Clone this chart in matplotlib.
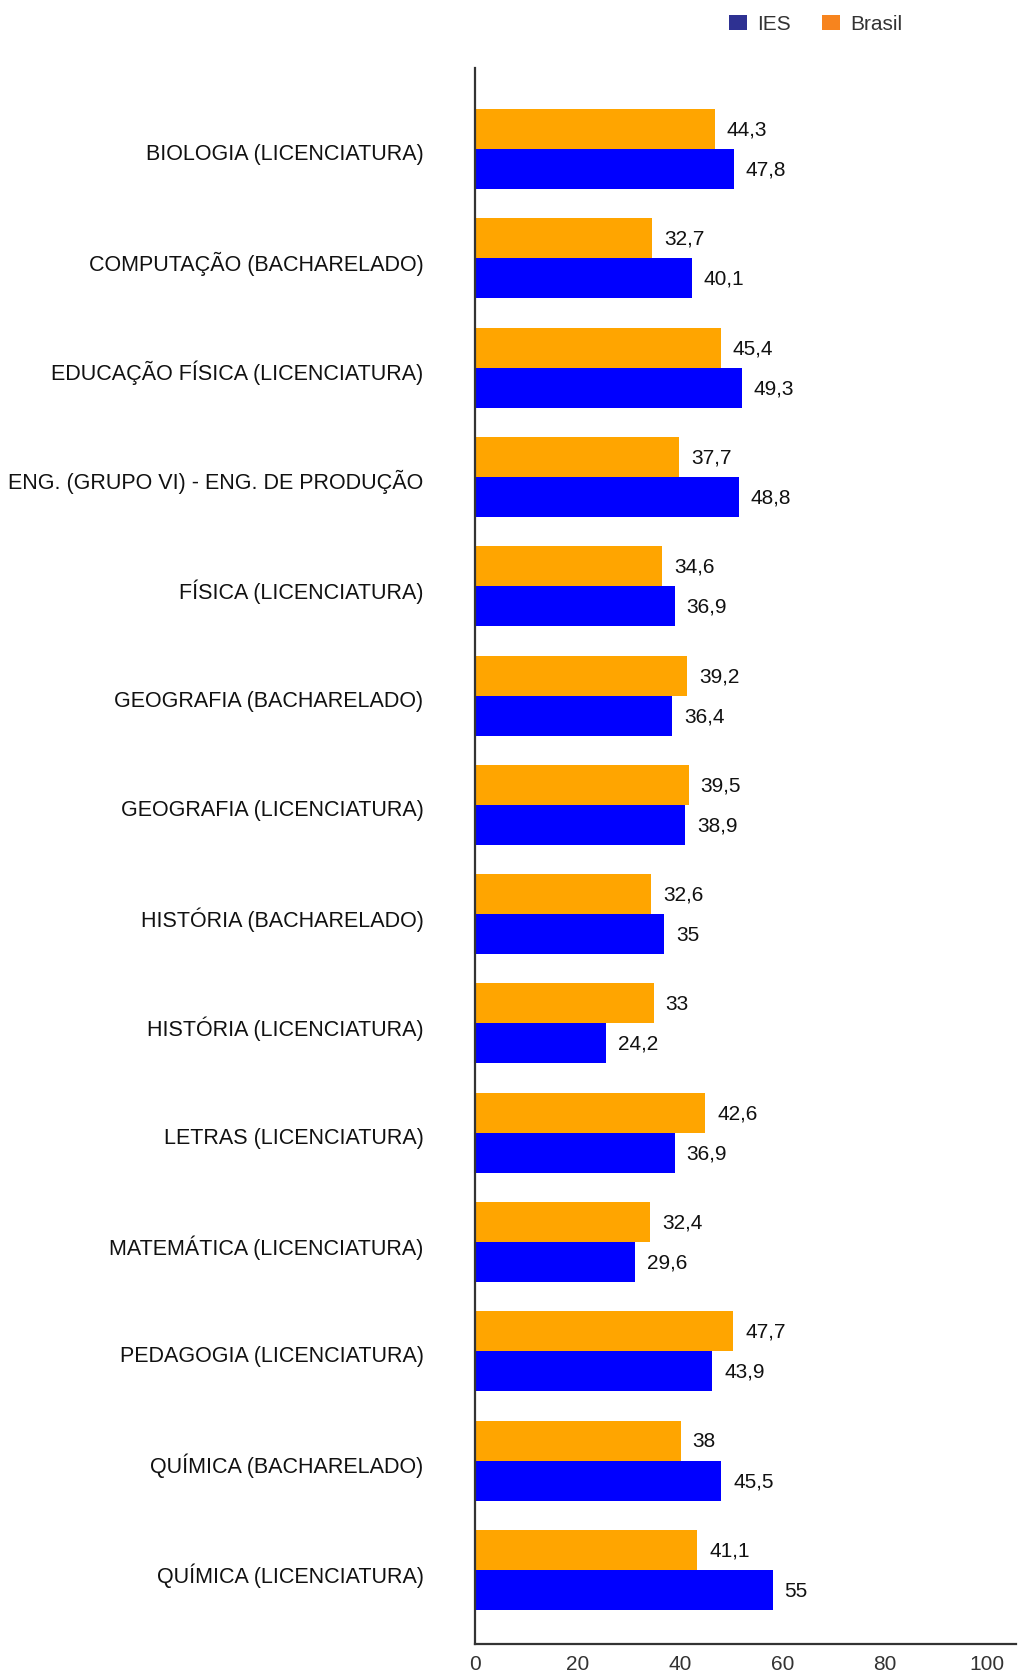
import matplotlib
matplotlib.use("Agg")
import matplotlib.pyplot as plt
import matplotlib.transforms as mtransforms
from matplotlib.patches import Patch
import numpy as np

plt.rcParams['font.family'] = ['Liberation Sans', 'DejaVu Sans']

categories = [
    "BIOLOGIA (LICENCIATURA)",
    "COMPUTAÇÃO (BACHARELADO)",
    "EDUCAÇÃO FÍSICA (LICENCIATURA)",
    "ENG. (GRUPO VI) - ENG. DE PRODUÇÃO",
    "FÍSICA (LICENCIATURA)",
    "GEOGRAFIA (BACHARELADO)",
    "GEOGRAFIA (LICENCIATURA)",
    "HISTÓRIA (BACHARELADO)",
    "HISTÓRIA (LICENCIATURA)",
    "LETRAS (LICENCIATURA)",
    "MATEMÁTICA (LICENCIATURA)",
    "PEDAGOGIA (LICENCIATURA)",
    "QUÍMICA (BACHARELADO)",
    "QUÍMICA (LICENCIATURA)",
]
brasil = [44.3, 32.7, 45.4, 37.7, 34.6, 39.2, 39.5, 32.6, 33, 42.6, 32.4, 47.7, 38, 41.1]
ies = [47.8, 40.1, 49.3, 48.8, 36.9, 36.4, 38.9, 35, 24.2, 36.9, 29.6, 43.9, 45.5, 55]
xticks = [0, 20, 40, 60, 80, 100]

W, H = 1018, 1674
fig = plt.figure(figsize=(W / 100, H / 100), dpi=100)
left, right, top, bottom = 475, 1016, 69, 1645
ax = fig.add_axes([left / W, 1 - bottom / H, (right - left) / W, (bottom - top) / H])

n = len(categories)
y = np.arange(n)
bh = 0.366
ax.barh(y - bh / 2, brasil, height=bh, color='#FFA500', zorder=2)
ax.barh(y + bh / 2, ies, height=bh, color='#0000FF', zorder=2)

def fmt(v):
    s = ('%.1f' % v).rstrip('0').rstrip('.')
    return s.replace('.', ',')

for i in range(n):
    ax.annotate(fmt(brasil[i]), (brasil[i], y[i] - bh / 2), xytext=(8.6, 0),
                textcoords='offset points', va='center', ha='left', fontsize=15, color='#111111')
    ax.annotate(fmt(ies[i]), (ies[i], y[i] + bh / 2), xytext=(8.6, 0),
                textcoords='offset points', va='center', ha='left', fontsize=15, color='#111111')

ax.set_xlim(0, 100)
ax.set_ylim(n - 1 + 0.677, -0.741)
ax.set_yticks(y)
ax.set_yticklabels(categories, fontsize=15.5, color='#111111')
ax.tick_params(axis='y', length=0, pad=37)
shift = mtransforms.ScaledTranslation(0, -2 / 100, fig.dpi_scale_trans)
for lab in ax.get_yticklabels():
    lab.set_transform(lab.get_transform() + shift)
ax.set_xticks([])
for s in ['top', 'right']:
    ax.spines[s].set_visible(False)
ax.spines['left'].set_color('#333333')
ax.spines['bottom'].set_color('#333333')
ax.spines['left'].set_linewidth(1.6)
ax.spines['bottom'].set_linewidth(1.6)

sec = ax.secondary_xaxis('bottom', functions=(lambda x: x * 1.056, lambda x: x / 1.056))
sec.set_xticks(xticks)
sec.set_xticklabels([str(t) for t in xticks], fontsize=15, color='#333333')
sec.tick_params(length=0, pad=7)
sec.spines['bottom'].set_visible(False)

handles = [Patch(facecolor='#2E3192', label='IES'), Patch(facecolor='#F7841E', label='Brasil')]
leg = fig.legend(handles=handles, loc='center', bbox_to_anchor=(816 / W, 1 - 25 / H), ncol=2,
                 frameon=False, fontsize=15, handlelength=0.85, handleheight=0.7,
                 columnspacing=1.5, handletextpad=0.5)
for t in leg.get_texts():
    t.set_color('#333333')

fig.savefig('out.png', dpi=100)
